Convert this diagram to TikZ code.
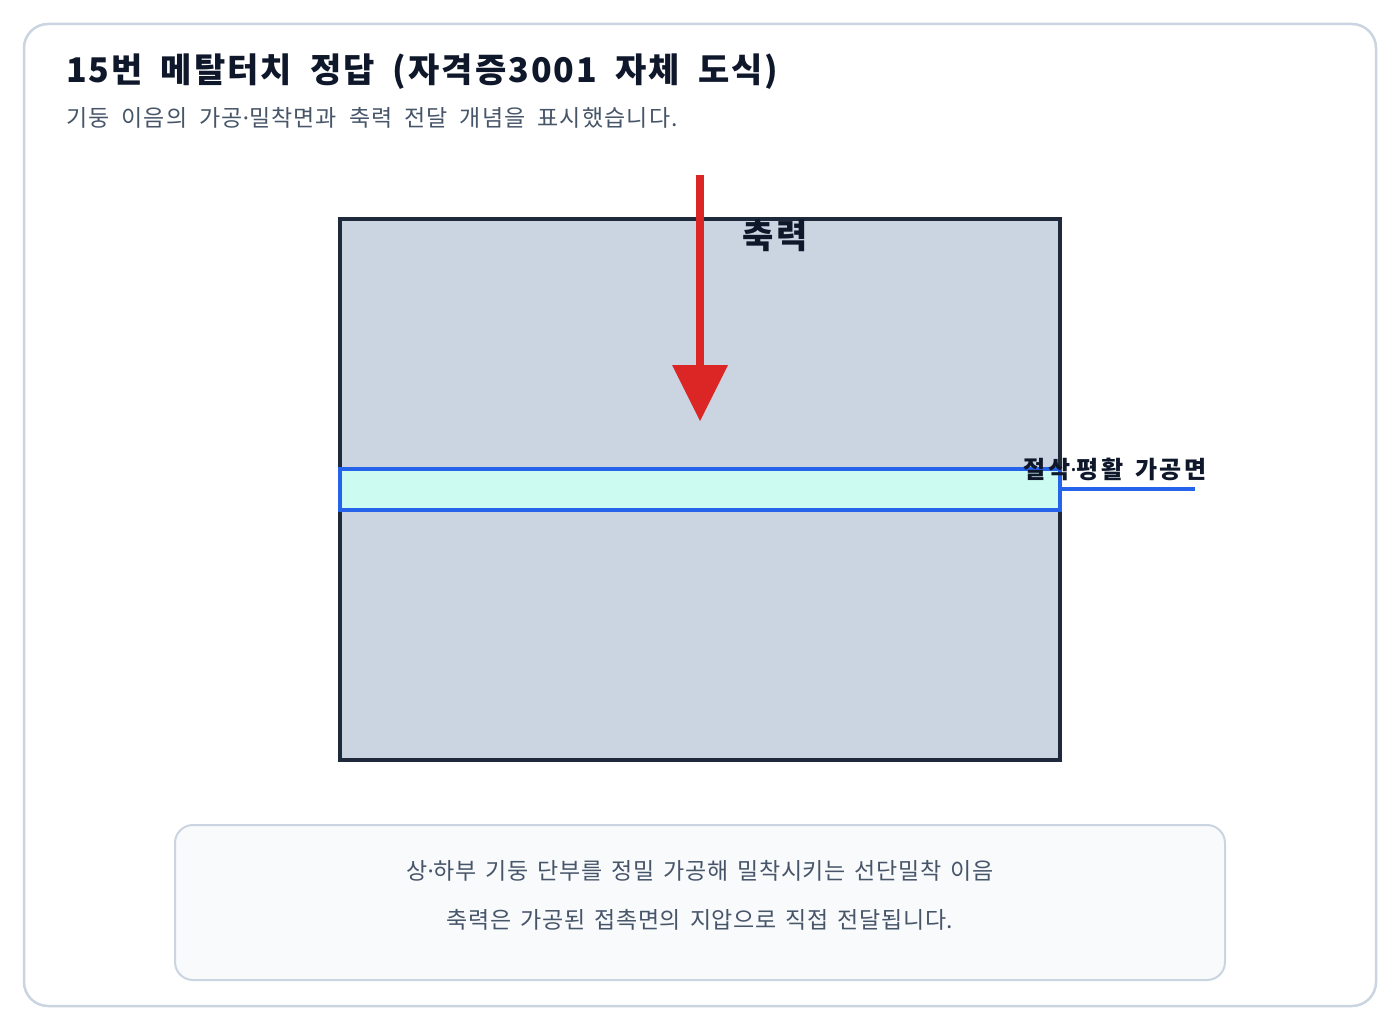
\documentclass[tikz,border=0pt]{standalone}
\usepackage{fontspec}
\setmainfont{Noto Sans CJK KR}
\newfontfamily\latinf{Noto Sans}
\newcommand{\md}{{\latinf ·}}
\newcommand{\ttlfont}{\fontsize{34}{40}\selectfont\bfseries\addfontfeatures{LetterSpace=6}\setlength{\spaceskip}{0.53em}}
\newcommand{\subfont}{\fontsize{23}{27}\selectfont\addfontfeatures{LetterSpace=5}\setlength{\spaceskip}{0.52em}}
\newcommand{\notefont}{\fontsize{23}{27}\selectfont\addfontfeatures{LetterSpace=3}\setlength{\spaceskip}{0.39em}}
\newcommand{\forcefont}{\fontsize{34}{40}\selectfont\bfseries\addfontfeatures{LetterSpace=10}}
\newcommand{\bandfont}{\fontsize{24}{28}\selectfont\bfseries\addfontfeatures{LetterSpace=10}\setlength{\spaceskip}{0.5em}}
\definecolor{frame}{HTML}{CBD5E1}
\definecolor{ink}{HTML}{0F172A}
\definecolor{subink}{HTML}{475569}
\definecolor{colfill}{HTML}{CBD5E1}
\definecolor{colstroke}{HTML}{1E293B}
\definecolor{bandfill}{HTML}{CCFBF1}
\definecolor{bandstroke}{HTML}{2563EB}
\definecolor{force}{HTML}{DC2626}
\definecolor{notefill}{HTML}{F8FAFC}
\tikzset{
  titletext/.style={anchor=west, inner sep=0, font=\ttlfont, text=ink},
  subtext/.style={anchor=west, inner sep=0, font=\subfont, text=subink},
  notetext/.style={anchor=center, inner sep=0, font=\notefont, text=subink},
  labeltext/.style={inner sep=0, text=ink},
}
\begin{document}
\begin{tikzpicture}[x=1pt,y=-1pt]
\useasboundingbox (0,0) rectangle (1400,1030);
\fill[white] (0,0) rectangle (1400,1030);
% outer card
\draw[frame, line width=2.5pt, rounded corners=24pt, fill=white] (24,24) rectangle (1376,1006);
% title
\node[titletext] (title) at (66,72) {15번 메탈터치 정답 (자격증3001 자체 도식)};
\node[subtext] (sub) at (66,118) {기둥 이음의 가공\md 밀착면과 축력 전달 개념을 표시했습니다.};
% column
\draw[colstroke, line width=4pt, fill=colfill] (340,219) rectangle (1060,760);
% band
\draw[bandstroke, line width=4pt, fill=bandfill] (340,469) rectangle (1060,510);
\node[inner sep=0] (band) at (1060,489) {};
% force arrow
\coordinate (ftop) at (700,175);
\coordinate (fshaft) at (700,366);
\coordinate (ftip) at (700,421);
\draw[force, line width=8pt] (ftop) -- (fshaft);
\fill[force] (672,365) -- (728,365) -- (ftip) -- cycle;
\node[labeltext, font=\forcefont] (forcelbl) at (775,236) {축력};
% band label
\coordinate (lend) at (1195,489);
\draw[bandstroke, line width=3.5pt] (band) -- (lend);
\node[labeltext, font=\bandfont] (bandlbl) at (1115,469) {절삭\md 평활 가공면};
% note box
\draw[frame, line width=2pt, rounded corners=18pt, fill=notefill] (175,825) rectangle (1225,980);
\node[notetext] (note1) at (700,871) {상\md 하부 기둥 단부를 정밀 가공해 밀착시키는 선단밀착 이음};
\node[notetext] (note2) at (700,920) {축력은 가공된 접촉면의 지압으로 직접 전달됩니다.};
\end{tikzpicture}
\end{document}
